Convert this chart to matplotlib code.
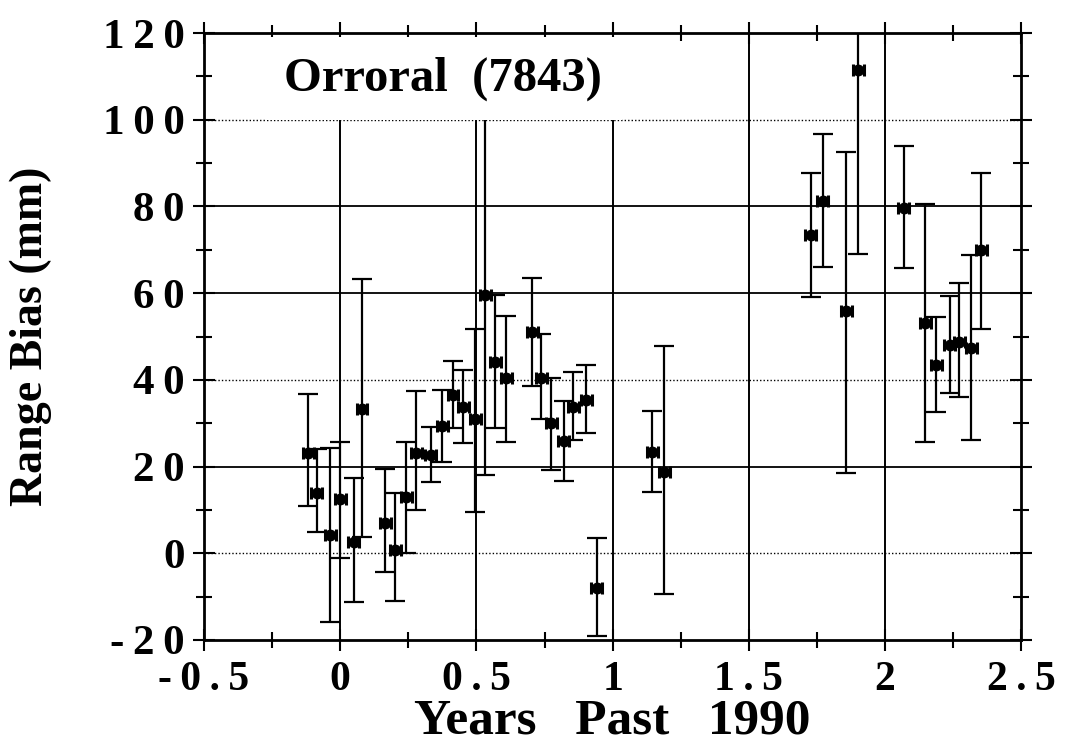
import numpy as np
import matplotlib
matplotlib.use("Agg")
import matplotlib.pyplot as plt

# Orroral (7843) range bias solutions
years = [-0.117, -0.086, -0.037, 0.000, 0.049, 0.080,
         0.165, 0.202, 0.242, 0.279, 0.333, 0.374, 0.414, 0.451, 0.495,
         0.533, 0.570, 0.610, 0.705, 0.738, 0.775, 0.821, 0.855, 0.904, 0.941,
         1.146, 1.189,
         1.728, 1.771, 1.857, 1.902,
         2.069, 2.148, 2.188, 2.237, 2.273, 2.316, 2.353]
bias = [23.2, 14.0, 4.2, 12.5, 2.7, 33.3,
        6.9, 0.8, 13.0, 23.2, 22.7, 29.4, 36.5, 33.8, 30.9,
        59.6, 44.2, 40.4, 51.1, 40.4, 30.1, 25.9, 33.8, 35.4, -8.1,
        23.4, 18.8,
        73.4, 81.3, 55.9, 111.5,
        79.6, 53.2, 43.4, 48.0, 48.8, 47.3, 69.9]
bias_lo = [11.0, 5.0, -15.8, -1.0, -11.2, 3.8,
           -4.4, -11.0, 0.0, 10.0, 16.5, 21.1, 29.0, 25.4, 9.6,
           18.0, 28.8, 25.7, 38.7, 30.9, 19.2, 16.7, 26.1, 27.7, -19.2,
           14.2, -9.4,
           59.2, 66.1, 18.6, 69.0,
           65.9, 25.7, 32.7, 36.9, 36.0, 26.1, 51.7]
bias_hi = [36.8, 24.0, 24.2, 25.7, 17.3, 63.2,
           19.4, 14.0, 25.7, 37.5, 29.2, 37.7, 44.3, 42.3, 51.7,
           100.5, 59.6, 54.7, 63.4, 50.6, 40.4, 35.1, 41.9, 43.4, 3.5,
           32.9, 47.8,
           87.8, 96.7, 92.6, 122.0,
           94.0, 80.6, 54.6, 59.4, 62.4, 68.8, 87.8]

x_ticks = [-0.5, 0, 0.5, 1, 1.5, 2, 2.5]
x_tick_labels = ["-0.5", "0", "0.5", "1", "1.5", "2", "2.5"]
y_ticks = [-20, 0, 20, 40, 60, 80, 100, 120]

serif = ["Liberation Serif", "DejaVu Serif"]
thin = "\u2009"

years = np.array(years)
bias = np.array(bias)
yerr = [bias - np.array(bias_lo), np.array(bias_hi) - bias]

fig = plt.figure(figsize=(10.66, 7.52), dpi=100)
ax = fig.add_axes([0.1914, 0.149, 0.7666, 0.807])

# grid: solid and dotted lines as in the original
for yv in [20, 60, 80]:
    ax.axhline(yv, color="black", lw=1.3, zorder=1)
for yv in [0, 40, 100]:
    ax.axhline(yv, color="black", lw=1.0, ls=(0, (1, 1.5)), zorder=1)
for xv in [0, 0.5, 1, 1.5, 2]:
    ax.axvline(xv, color="black", lw=1.4, zorder=1)

# vertical error bars with caps
ax.errorbar(years, bias, yerr=yerr, fmt="none", ecolor="black",
            elinewidth=1.6, capsize=7.5, capthick=1.6, zorder=3)
# small bow-tie style markers
ax.errorbar(years, bias, xerr=0.02, fmt="o", color="black", ms=7.5,
            elinewidth=3, capsize=4.5, capthick=2.2, zorder=4)

ax.set_xlim(-0.5, 2.5)
ax.set_ylim(-20, 120)
ax.set_xticks(x_ticks)
ax.set_xticks(np.arange(-0.5, 2.51, 0.25), minor=True)
ax.set_yticks(y_ticks)
ax.set_yticks(np.arange(-20, 121, 10), minor=True)
ax.set_xticklabels([thin.join(s) for s in x_tick_labels],
                   fontfamily=serif, fontweight="bold", fontsize=30)
ax.set_yticklabels([thin.join(str(v)) for v in y_ticks],
                   fontfamily=serif, fontweight="bold", fontsize=31)
ax.tick_params(which="both", direction="inout", top=True, right=True,
               width=1.5, color="black")
ax.tick_params(axis="y", which="major", length=16, pad=6)
ax.tick_params(axis="x", which="major", length=16, pad=7)
ax.tick_params(which="minor", length=12)

for sp in ax.spines.values():
    sp.set_linewidth(2)

ax.set_xlabel("Years   Past   1990", fontfamily=serif, fontweight="bold",
              fontsize=37, labelpad=0)
ax.set_ylabel("Range Bias (mm)", fontfamily=serif, fontweight="bold",
              fontsize=33)
ax.yaxis.set_label_coords(-0.186, 0.5)

ax.text(-0.205, 109.5, "Orroral  (7843)", fontfamily=serif, fontweight="bold",
        fontsize=35, va="center", ha="left", zorder=5,
        bbox=dict(facecolor="white", edgecolor="none", pad=14))

fig.savefig("out.png", dpi=100)
